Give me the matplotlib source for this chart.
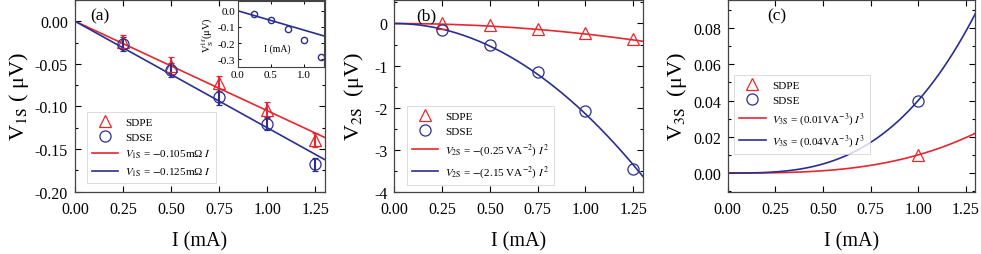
import matplotlib
matplotlib.use('Agg')
import matplotlib.pyplot as plt
import numpy as np
from matplotlib.lines import Line2D
from matplotlib.ticker import MultipleLocator, FormatStrFormatter

plt.rcParams['font.family'] = ['Liberation Serif', 'DejaVu Serif']
plt.rcParams['mathtext.fontset'] = 'stix'
plt.rcParams['axes.unicode_minus'] = False
plt.rcParams['xtick.direction'] = 'in'
plt.rcParams['ytick.direction'] = 'in'
plt.rcParams['xtick.top'] = True
plt.rcParams['ytick.right'] = True

RED = '#e8262d'
BLUE = '#2b2e8f'

# data
current = [0.25, 0.5, 0.75, 1.0, 1.25]
v1_sdpe = [-0.024, -0.052, -0.073, -0.104, -0.139]
v1_sdpe_err = [0.008, 0.010, 0.009, 0.009, 0.008]
v1_sdse = [-0.027, -0.057, -0.089, -0.120, -0.168]
v1_sdse_err = [0.008, 0.008, 0.009, 0.008, 0.008]
k1_sdpe = -0.105
k1_sdse = -0.125

inset_v = [-0.023, -0.060, -0.110, -0.180, -0.285]
inset_k = -0.12

v2_sdpe = [0.0, -0.03, -0.12, -0.22, -0.38]
v2_sdse = [-0.15, -0.52, -1.15, -2.08, -3.47]
k2_sdpe = -0.25
k2_sdse = -2.15

current3 = [1.0]
v3_sdpe = [0.01]
v3_sdse = [0.04]
k3_sdpe = 0.01
k3_sdse = 0.04

xfit = np.linspace(0, 1.3, 200)

fig = plt.figure(figsize=(9.81, 2.55), dpi=100)
ax1 = fig.add_axes([0.0765, 0.2443, 0.2548, 0.752])
ax2 = fig.add_axes([0.402, 0.2443, 0.2532, 0.752])
ax3 = fig.add_axes([0.7418, 0.2443, 0.2524, 0.752])

mk = dict(linestyle='none', markerfacecolor='none', markersize=8, markeredgewidth=0.9)


def style(ax):
    ax.set_xlim(0, 1.3)
    ax.xaxis.set_major_locator(MultipleLocator(0.25))
    ax.xaxis.set_major_formatter(FormatStrFormatter('%.2f'))
    ax.tick_params(labelsize=11.5, length=4, width=0.8, pad=5)
    ax.tick_params(axis='x', pad=7)
    ax.tick_params(which='minor', length=2.5, width=0.8)
    for s in ax.spines.values():
        s.set_linewidth(0.9)
        s.set_color('#444444')
    ax.set_xlabel('I (mA)', fontsize=14.5, labelpad=10)


def legend(ax, lab1, lab2, loc):
    handles = [Line2D([], [], color=RED, marker='^', **mk),
               Line2D([], [], color=BLUE, marker='o', **mk),
               Line2D([], [], color=RED, lw=1.2),
               Line2D([], [], color=BLUE, lw=1.2)]
    leg = ax.legend(handles, ['SDPE', 'SDSE', lab1, lab2], loc='upper left',
                    bbox_to_anchor=loc, borderaxespad=0, fontsize=8, frameon=True,
                    fancybox=False, handlelength=2.4, handletextpad=0.6,
                    borderpad=0.45, labelspacing=0.5)
    leg.get_frame().set_edgecolor('#cccccc')
    leg.get_frame().set_linewidth(0.6)


# (a)
ax1.plot(xfit, k1_sdpe * xfit, color=RED, lw=1.2)
ax1.plot(xfit, k1_sdse * xfit, color=BLUE, lw=1.2)
ax1.errorbar(current, v1_sdpe, yerr=v1_sdpe_err, color=RED, marker='^', capsize=2,
             elinewidth=1.5, capthick=1.2, **mk)
ax1.errorbar(current, v1_sdse, yerr=v1_sdse_err, color=BLUE, marker='o', capsize=2,
             elinewidth=1.5, capthick=1.2, **mk)
style(ax1)
ax1.set_ylim(-0.2, 0.025)
ax1.yaxis.set_major_locator(MultipleLocator(0.05))
ax1.yaxis.set_minor_locator(MultipleLocator(0.025))
ax1.yaxis.set_major_formatter(FormatStrFormatter('%.2f'))
ax1.set_ylabel(r'V$_{\rm 1S}$ ( μV)', fontsize=16, labelpad=3)
ax1.text(0.06, 0.96, '(a)', transform=ax1.transAxes, fontsize=12.5, va='top')
legend(ax1, r'$V_{\rm 1S}$ = $-$0.105mΩ $I$', r'$V_{\rm 1S}$ = $-$0.125mΩ $I$', (0.047, 0.417))

# inset
axi = fig.add_axes([0.2423, 0.732, 0.088, 0.26])
axi.plot(xfit, inset_k * xfit, color=BLUE, lw=1.2)
axi.plot(current, inset_v, color=BLUE, marker='o', linestyle='none',
         markerfacecolor='none', markersize=4.5, markeredgewidth=1.0)
axi.set_xlim(0, 1.3)
axi.set_ylim(-0.35, 0.06)
axi.xaxis.set_major_locator(MultipleLocator(0.5))
axi.yaxis.set_major_locator(MultipleLocator(0.1))
axi.xaxis.set_major_formatter(FormatStrFormatter('%.1f'))
axi.yaxis.set_major_formatter(FormatStrFormatter('%.1f'))
axi.tick_params(labelsize=8, length=2.5, width=0.7, pad=2)
for s in axi.spines.values():
    s.set_linewidth(0.8)
    s.set_color('#444444')
axi.text(0.6, -0.23, 'I (mA)', fontsize=7, ha='center', va='center')
axi.set_ylabel(r'V$_{\rm S}^{\rm 1f}$(μV)', fontsize=7.5, labelpad=1)

# (b)
ax2.plot(xfit, k2_sdpe * xfit ** 2, color=RED, lw=1.2)
ax2.plot(xfit, k2_sdse * xfit ** 2, color=BLUE, lw=1.2)
ax2.plot(current, v2_sdpe, color=RED, marker='^', **mk)
ax2.plot(current, v2_sdse, color=BLUE, marker='o', **mk)
style(ax2)
ax2.set_ylim(-4, 0.56)
ax2.yaxis.set_major_locator(MultipleLocator(1))
ax2.yaxis.set_minor_locator(MultipleLocator(0.5))
ax2.yaxis.set_major_formatter(FormatStrFormatter('%d'))
ax2.set_ylabel(r'V$_{\rm 2S}$  (μV)', fontsize=16, labelpad=6)
ax2.text(0.09, 0.96, '(b)', transform=ax2.transAxes, fontsize=12.5, va='top')
legend(ax2, r'$V_{\rm 2S}$ = $-$(0.25 VA$^{-2}$) $I^2$', r'$V_{\rm 2S}$ = $-$(2.15 VA$^{-2}$) $I^2$',
       (0.05, 0.447))

# (c)
ax3.plot(xfit, k3_sdpe * xfit ** 3, color=RED, lw=1.2)
ax3.plot(xfit, k3_sdse * xfit ** 3, color=BLUE, lw=1.2)
ax3.plot(current3, v3_sdpe, color=RED, marker='^', **mk)
ax3.plot(current3, v3_sdse, color=BLUE, marker='o', **mk)
style(ax3)
ax3.set_ylim(-0.0103, 0.0955)
ax3.yaxis.set_major_locator(MultipleLocator(0.02))
ax3.yaxis.set_minor_locator(MultipleLocator(0.01))
ax3.yaxis.set_major_formatter(FormatStrFormatter('%.2f'))
ax3.set_ylabel(r'V$_{\rm 3S}$  (μV)', fontsize=16, labelpad=3)
ax3.text(0.16, 0.96, '(c)', transform=ax3.transAxes, fontsize=12.5, va='top')
legend(ax3, r'$V_{\rm 3S}$ = (0.01VA$^{-3}$) $I^3$', r'$V_{\rm 3S}$ = (0.04VA$^{-3}$) $I^3$',
       (0.025, 0.61))

fig.savefig('out.png', dpi=100)
